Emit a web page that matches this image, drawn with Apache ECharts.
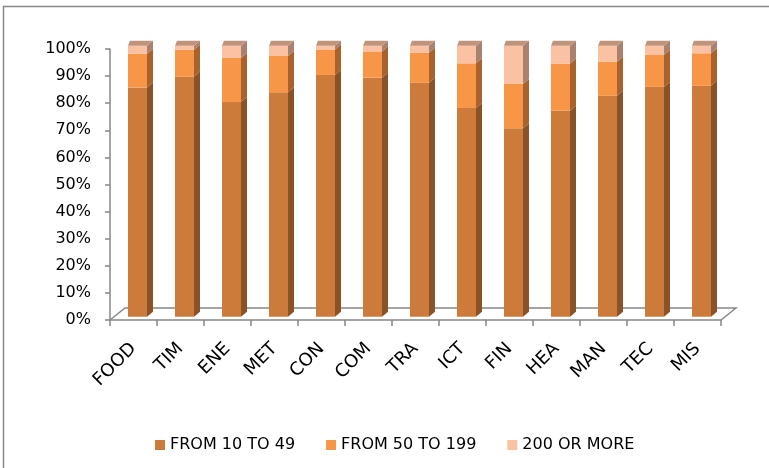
<!DOCTYPE html>
<html>
<head>
<meta charset="utf-8">
<script src="https://cdn.jsdelivr.net/npm/echarts@6/dist/echarts.min.js"></script>
<style>
  html, body { margin: 0; padding: 0; background: #fff; }
  #chart { width: 769px; height: 468px; }
</style>
</head>
<body>
<div id="chart"></div>
<script>
// Sectors and share of firms by size class (percent)
const categories = ['FOOD', 'TIM', 'ENE', 'MET', 'CON', 'COM', 'TRA', 'ICT', 'FIN', 'HEA', 'MAN', 'TEC', 'MIS'];
const seriesNames = ['FROM 10 TO 49', 'FROM 50 TO 199', '200 OR MORE'];
const from10to49 = [84.6, 88.6, 79.2, 82.8, 89.2, 88.2, 86.3, 77.0, 69.5, 76.0, 81.5, 84.8, 85.2];
const from50to199 = [12.4, 9.9, 16.3, 13.4, 9.4, 9.7, 11.1, 16.5, 16.4, 17.4, 12.6, 11.8, 12.0];
const from200 = [3.0, 1.5, 4.5, 3.8, 1.4, 2.1, 2.6, 6.5, 14.1, 6.6, 5.9, 3.4, 2.8];
const yTicks = [0, 10, 20, 30, 40, 50, 60, 70, 80, 90, 100];

const FONT = 'DejaVu Sans';
const AXIS_GREY = '#878787';

// face colours: front, side, top
const palette = [
  { front: '#CD7B3A', side: '#8A5327', top: '#B98A6B' },
  { front: '#F79646', side: '#A9622C', top: '#C09078' },
  { front: '#FAC1A2', side: '#A8826F', top: '#C0937B' }
];

// pseudo-3D geometry of each column (pixels)
const BAR_W = 19;       // front face width
const SHIFT_X = 4;      // column sits a little behind the floor's front edge
const SHIFT_Y = -3.3;
const DEPTH_X = 6;      // side face receding to the right
const DEPTH_Y = -5;     // and upward
const TOP_LEFT_X = 2;

// stack the three size classes
const valueSets = [from10to49, from50to199, from200];
const stacked = valueSets.map((vals, s) =>
  vals.map((v, i) => {
    let base = 0;
    for (let k = 0; k < s; k++) base += valueSets[k][i];
    return [i, base, base + v];
  })
);

function makeRender(sIdx) {
  const col = palette[sIdx];
  const isTop = sIdx === valueSets.length - 1;
  return function (params, api) {
    const i = api.value(0);
    const lo = api.coord([i, api.value(1)]);
    const hi = api.coord([i, api.value(2)]);
    const x0 = lo[0] + SHIFT_X - BAR_W / 2;
    const x1 = x0 + BAR_W;
    const yb = lo[1] + SHIFT_Y;
    const yt = hi[1] + SHIFT_Y;
    const children = [
      {
        type: 'polygon',
        shape: { points: [[x1, yb], [x1 + DEPTH_X, yb + DEPTH_Y], [x1 + DEPTH_X, yt + DEPTH_Y], [x1, yt]] },
        style: { fill: col.side }
      },
      {
        type: 'rect',
        shape: { x: x0, y: yt, width: BAR_W, height: yb - yt },
        style: { fill: col.front }
      }
    ];
    if (isTop) {
      children.push({
        type: 'polygon',
        shape: { points: [[x0, yt], [x1, yt], [x1 + DEPTH_X, yt + DEPTH_Y], [x0 + TOP_LEFT_X, yt + DEPTH_Y]] },
        style: { fill: col.top }
      });
    }
    return { type: 'group', children: children };
  };
}

const chart = echarts.init(document.getElementById('chart'), null, { renderer: 'canvas' });

chart.setOption({
  animation: false,
  backgroundColor: '#ffffff',
  grid: { left: 110, right: 48, top: 49, bottom: 148, containLabel: false },
  legend: {
    data: seriesNames,
    left: 150,
    top: 432,
    icon: 'rect',
    itemWidth: 10,
    itemHeight: 10,
    itemGap: 31,
    textStyle: { fontFamily: FONT, fontSize: 16, color: '#000' }
  },
  xAxis: {
    type: 'category',
    data: categories,
    boundaryGap: true,
    axisLine: { show: true, lineStyle: { color: AXIS_GREY, width: 1.5 } },
    axisTick: { show: true, alignWithLabel: false, interval: 0, length: 6, lineStyle: { color: AXIS_GREY, width: 1.5 } },
    axisLabel: {
      interval: 0,
      rotate: 45,
      margin: 26,
      fontFamily: FONT,
      fontSize: 18,
      color: '#000'
    },
    splitLine: { show: false }
  },
  yAxis: {
    type: 'value',
    min: 0,
    max: 100,
    interval: 10,
    axisLine: { show: true, lineStyle: { color: AXIS_GREY, width: 1.5 } },
    axisTick: { show: true, length: 5, lineStyle: { color: AXIS_GREY, width: 1.5 } },
    axisLabel: {
      margin: 19,
      fontFamily: FONT,
      fontSize: 16,
      color: '#000',
      formatter: v => (yTicks.indexOf(v) >= 0 ? v + '%' : '')
    },
    splitLine: { show: false }
  },
  series: stacked.map((data, s) => ({
    name: seriesNames[s],
    type: 'custom',
    renderItem: makeRender(s),
    itemStyle: { color: palette[s].front },
    encode: { x: 0, y: [1, 2] },
    data: data,
    z: 3
  }))
});

// Floor of the plot area and the outer frame, placed from the axes' own pixels
(function drawFloor() {
  const first = chart.convertToPixel({ xAxisIndex: 0, yAxisIndex: 0 }, [0, 0]);
  const last = chart.convertToPixel({ xAxisIndex: 0, yAxisIndex: 0 }, [categories.length - 1, 0]);
  const band = (last[0] - first[0]) / (categories.length - 1);
  const left = first[0] - band / 2;
  const right = last[0] + band / 2;
  const y = first[1];
  const dx = 15, dy = -12;
  const lineStyle = { stroke: AXIS_GREY, lineWidth: 1.5, fill: null };
  chart.setOption({
    graphic: [
      { type: 'polyline', z: 1, shape: { points: [[left, y], [left + dx, y + dy], [right + dx, y + dy], [right, y]] }, style: lineStyle },
      { type: 'rect', z: 0, shape: { x: 3.5, y: 6.5, width: 820, height: 520 }, style: { stroke: AXIS_GREY, lineWidth: 1.5, fill: null } }
    ]
  });
})();
</script>
</body>
</html>
